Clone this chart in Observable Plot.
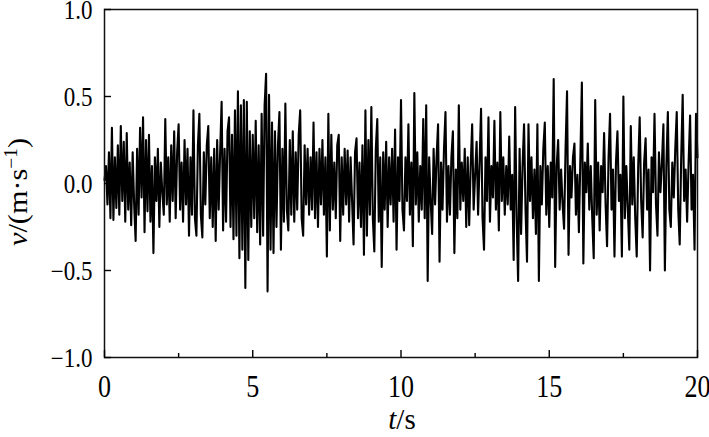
<!DOCTYPE html>
<html><head><meta charset="utf-8">
<script src="https://cdn.jsdelivr.net/npm/d3@7"></script>
<script src="https://cdn.jsdelivr.net/npm/@observablehq/plot@0.6"></script>
<style>body{margin:0;background:#fff} svg{display:block}</style>
</head><body><div id="chart"></div>
<script>
// sampling step of the velocity record (s)
const dt = 0.05;
// velocity values v (m/s), one array per second of record
const v00 = [0.02,0.10,-0.12,0.18,-0.20,0.32,-0.21,0.15,-0.14,0.22,-0.18,0.33,-0.10,0.24,-0.22,0.29,-0.15,0.12,-0.24,0.18];
const v01 = [-0.12,-0.33,0.20,-0.18,0.32,-0.08,0.38,-0.28,0.25,-0.16,0.28,-0.22,0.10,-0.40,0.15,-0.10,0.20,-0.25,0.12,-0.05];
const v02 = [-0.18,0.37,-0.12,0.15,-0.22,0.22,-0.10,0.30,-0.20,0.18,0.34,-0.15,0.12,-0.22,0.25,-0.12,0.20,-0.30,0.15,-0.18];
const v03 = [0.42,-0.20,-0.30,0.22,0.40,-0.18,-0.31,0.18,-0.12,0.22,0.33,-0.20,0.15,-0.25,0.20,-0.33,0.25,-0.15,0.18,0.47];
const v04 = [-0.27,0.20,-0.22,0.30,0.38,-0.25,0.28,-0.32,0.42,-0.30,0.53,-0.43,0.45,-0.38,0.48,-0.60,0.47,-0.44,0.30,-0.25];
const v05 = [0.28,-0.20,0.36,-0.28,0.22,-0.35,0.40,-0.30,0.45,0.63,-0.62,0.51,-0.38,0.35,-0.40,0.30,-0.25,0.22,0.41,-0.38];
const v06 = [0.20,-0.22,0.46,-0.15,-0.27,0.25,-0.18,0.30,-0.22,0.18,-0.15,0.28,0.42,-0.20,-0.30,0.22,-0.12,0.20,-0.18,0.15];
const v07 = [-0.15,0.35,-0.20,0.18,-0.25,0.20,-0.12,0.25,-0.18,0.15,-0.42,0.40,-0.27,0.28,-0.15,0.12,-0.20,0.22,0.28,-0.33];
const v08 = [0.15,-0.18,0.20,-0.12,0.19,-0.22,0.15,-0.10,-0.35,0.18,0.26,-0.20,0.12,-0.25,0.22,-0.41,0.42,-0.30,0.25,-0.18];
const v09 = [0.44,-0.20,-0.39,0.20,0.37,-0.22,0.15,-0.48,0.18,-0.15,0.24,-0.25,0.15,-0.12,0.20,-0.22,0.31,-0.38,0.15,-0.10];
const v10 = [0.48,-0.15,-0.27,0.15,-0.10,0.34,-0.18,0.12,-0.36,0.52,-0.12,0.18,-0.22,0.10,-0.15,0.37,-0.20,0.45,-0.56,0.15];
const v11 = [-0.10,-0.29,0.20,-0.12,0.15,0.34,-0.45,0.12,-0.15,0.20,0.41,-0.22,0.10,-0.18,0.15,0.30,-0.40,0.08,-0.20,0.45];
const v12 = [-0.15,0.12,-0.10,0.20,-0.25,0.15,-0.24,0.10,0.34,-0.15,0.05,0.24,-0.18,0.12,0.43,-0.20,-0.38,0.15,-0.10,0.38];
const v13 = [-0.22,0.10,-0.08,0.36,-0.15,0.12,-0.27,0.41,-0.10,0.15,-0.18,0.10,-0.12,0.27,-0.15,0.05,-0.44,0.44,-0.20,-0.56];
const v14 = [0.20,-0.29,0.10,0.34,-0.15,-0.45,0.34,-0.10,0.15,-0.20,0.08,-0.29,0.34,-0.56,0.10,-0.12,0.20,0.35,-0.18,0.10];
const v15 = [-0.25,0.12,-0.08,0.60,-0.48,0.10,0.25,-0.15,0.08,-0.12,-0.26,0.20,0.53,-0.41,0.10,-0.08,0.15,0.23,-0.18,0.05];
const v16 = [-0.28,0.15,0.58,-0.46,0.12,-0.05,0.23,-0.15,0.10,-0.20,-0.43,0.48,-0.18,0.12,-0.27,0.10,-0.05,0.29,-0.12,-0.36];
const v17 = [0.15,0.40,-0.15,0.08,-0.42,0.12,0.30,-0.10,0.05,-0.42,0.50,-0.20,0.10,-0.15,-0.38,0.33,-0.12,0.15,-0.20,-0.42];
const v18 = [0.10,0.38,-0.10,-0.31,0.12,0.26,-0.15,0.08,-0.50,0.15,-0.05,0.40,-0.12,-0.30,0.18,-0.05,0.12,0.34,-0.50,0.10];
const v19 = [0.41,-0.15,-0.25,0.12,-0.08,0.20,0.41,-0.15,-0.35,0.15,0.51,-0.10,0.08,-0.22,0.12,0.39,-0.15,0.05,-0.38,0.40,0.15];

const velocity = [].concat(v00,v01,v02,v03,v04,v05,v06,v07,v08,v09,v10,v11,v12,v13,v14,v15,v16,v17,v18,v19);
const xTicks = [0, 5, 10, 15, 20];
const xMinorTicks = [2.5, 7.5, 12.5, 17.5];
const yTicks = [-1, -0.5, 0, 0.5, 1];
const xTitle = ["t", "/s"];
const yTitle = ["v", "/(m·s", "−1", ")"];

const data = velocity.map((v, i) => ({t: i * dt, v}));
const fmtY = d => d.toFixed(1).replace("-", "\u2212");
const serif = "'Liberation Serif', 'Times New Roman', serif";

const chart = Plot.plot({
  width: 709, height: 437,
  marginLeft: 104, marginRight: 12, marginTop: 9, marginBottom: 80,
  style: {fontFamily: serif, fontSize: "23px", color: "#000", background: "#fff"},
  x: {domain: [0, 20]},
  y: {domain: [-1, 1]},
  marks: [
    Plot.lineY(data, {x: "t", y: "v", stroke: "#000", strokeWidth: 2.1}),
    Plot.frame({stroke: "#111", strokeWidth: 1.5}),
    Plot.axisX(xTicks, {tickSize: -7, tickFormat: () => "", label: null, strokeWidth: 1.4}),
    Plot.axisX(xMinorTicks, {tickSize: -4, tickFormat: () => "", label: null, strokeWidth: 1.4}),
    Plot.axisX(xTicks, {tickSize: 0, tickPadding: 16, label: null, fontSize: 26, tickFormat: d => String(d)}),
    Plot.axisY(yTicks, {tickSize: -7, tickFormat: () => "", label: null, strokeWidth: 1.4}),
    Plot.axisY(yTicks, {tickSize: 0, tickPadding: 12, label: null, fontSize: 23, tickFormat: fmtY})
  ]
});
document.getElementById("chart").appendChild(chart);

const svg = d3.select(chart);
// the reference's lettering is slightly stretched vertically
svg.selectAll("g[aria-label='x-axis tick label'] text").each(function() {
  const t = this.getAttribute("transform") || "";
  this.setAttribute("transform", t + " scale(1,1.25)");
});
svg.selectAll("g[aria-label='y-axis tick label'] text").each(function() {
  const t = this.getAttribute("transform") || "";
  this.setAttribute("transform", t + " translate(0,1.5) scale(1,1.15)");
});

const xt = svg.append("text").attr("transform", "translate(402,429)").attr("text-anchor", "middle")
  .style("font-family", serif).style("font-size", "29px").attr("fill", "#000");
xt.append("tspan").style("font-style", "italic").text(xTitle[0]);
xt.append("tspan").text(xTitle[1]);

const yt = svg.append("text").attr("transform", "translate(27,192) scale(1,1.08) rotate(-90)").attr("text-anchor", "middle")
  .style("font-family", serif).style("font-size", "28px").attr("fill", "#000");
yt.append("tspan").style("font-style", "italic").text(yTitle[0]);
yt.append("tspan").text(yTitle[1]);
yt.append("tspan").attr("dy", -10).style("font-size", "18px").text(yTitle[2]);
yt.append("tspan").attr("dy", 10).text(yTitle[3]);
</script>
</body></html>
